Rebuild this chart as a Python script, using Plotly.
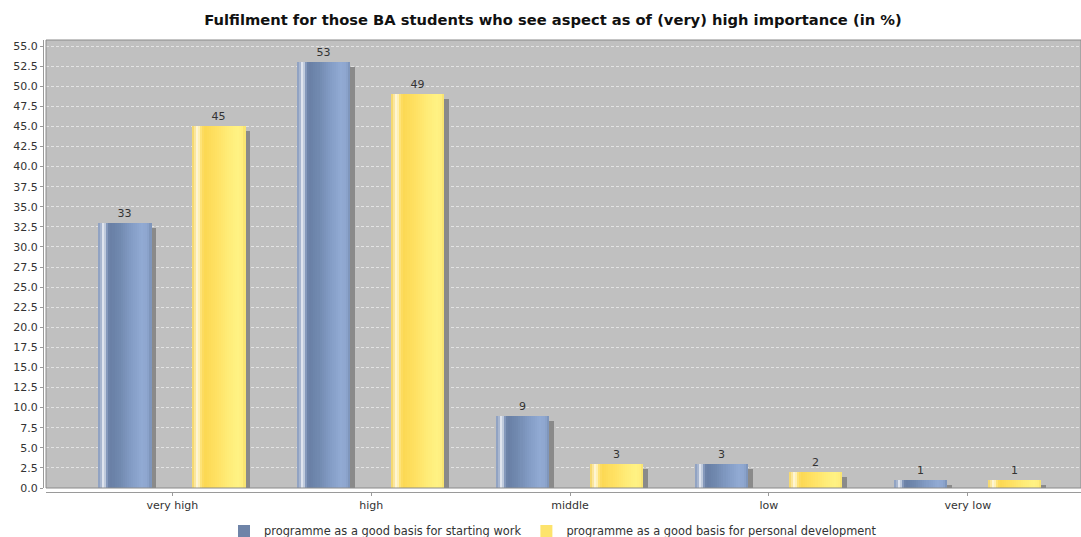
import plotly.graph_objects as go

categories = ["very high", "high", "middle", "low", "very low"]
work_values = [33, 53, 9, 3, 1]
dev_values = [45, 49, 3, 2, 1]
series_names = ["programme as a good basis for starting work",
                "programme as a good basis for personal development"]
title_text = "Fulfilment for those BA students who see aspect as of (very) high importance (in %)"

FONT = "DejaVu Sans"
BAR_W = 0.268
OFFSETS = [-0.373, 0.1]
LEGEND_COLORS = ["#6f84a8", "#fde36c"]

# colour stops (t, hex) across each bar's width to mimic the gradient look
blue_profile = [(0.0, "#8599bd"), (0.06, "#a9b7d0"), (0.11, "#f3f5f9"), (0.16, "#8c9fc1"),
                (0.22, "#687ea4"), (0.4, "#7189af"), (0.62, "#839cc5"), (0.82, "#91aad3"),
                (0.93, "#8ea6cf"), (1.0, "#7a90b5")]
yellow_profile = [(0.0, "#f2d35c"), (0.06, "#fbe7a0"), (0.11, "#fffbe6"), (0.16, "#ffe580"),
                  (0.23, "#fcd853"), (0.45, "#ffe163"), (0.68, "#ffec78"), (0.86, "#fff283"),
                  (0.95, "#ffee7e"), (1.0, "#f6df6a")]


def hex2rgb(h):
    h = h.lstrip("#")
    return tuple(int(h[i:i + 2], 16) for i in (0, 2, 4))


def color_at(profile, t):
    for (t0, c0), (t1, c1) in zip(profile[:-1], profile[1:]):
        if t0 <= t <= t1:
            f = 0 if t1 == t0 else (t - t0) / (t1 - t0)
            a, b = hex2rgb(c0), hex2rgb(c1)
            r = [round(a[k] + (b[k] - a[k]) * f) for k in range(3)]
            return "rgb(%d,%d,%d)" % tuple(r)
    return profile[-1][1]


fig = go.Figure()
N = 26
for vals, name, off, prof, lc in zip([work_values, dev_values], series_names, OFFSETS,
                                     [blue_profile, yellow_profile], LEGEND_COLORS):
    # shadow
    fig.add_trace(go.Bar(x=categories, y=vals, base=-0.62, offset=off + 0.025, width=BAR_W,
                         marker=dict(color="#8a8a8a", line=dict(width=0)),
                         showlegend=False, hoverinfo="skip"))
    # base bar (legend + value labels)
    fig.add_trace(go.Bar(x=categories, y=vals, offset=off, width=BAR_W, name=name,
                         marker=dict(color=lc, line=dict(width=0)),
                         text=[str(v) for v in vals], textposition="outside",
                         textfont=dict(family=FONT, size=11, color="#333333"),
                         cliponaxis=False))
    # gradient slices
    sw = BAR_W / N
    for i in range(N):
        t = (i + 0.5) / N
        fig.add_trace(go.Bar(x=categories, y=vals, offset=off + i * sw, width=sw * 1.05,
                             marker=dict(color=color_at(prof, t), line=dict(width=0)),
                             showlegend=False, hoverinfo="skip"))

fig.add_shape(type="rect", xref="x domain", yref="y domain", x0=0, x1=1, y0=0, y1=1,
              line=dict(color="#8a8a8a", width=1), layer="above")

fig.update_layout(
    width=1081, height=537,
    margin=dict(l=43, r=0, t=40, b=45, autoexpand=False),
    paper_bgcolor="white", plot_bgcolor="#c0c0c0",
    barmode="overlay", bargap=0,
    font=dict(family=FONT, size=11, color="#333333"),
    title=dict(text="<b>" + title_text + "</b>", x=553 / 1081, xref="container", xanchor="center",
               y=1 - 20 / 537, yref="container", yanchor="middle",
               font=dict(family=FONT, size=14.7, color="#111111")),
    xaxis=dict(domain=[3 / 1038, 1], anchor="free", position=0, automargin=False,
               range=[-0.635, 4.569], showgrid=False, showline=True, linecolor="#9a9a9a",
               ticks="outside", ticklen=3, tickcolor="#9a9a9a",
               tickfont=dict(family=FONT, size=11, color="#333333")),
    yaxis=dict(domain=[4 / 452, 1], anchor="free", position=0, automargin=False,
               range=[0, 55.75], dtick=2.5, tick0=0, tickformat=".1f",
               showgrid=True, gridcolor="rgba(235,235,235,0.8)", griddash="3px,2px", gridwidth=1,
               zeroline=False, showline=True, linecolor="#9a9a9a",
               ticks="outside", ticklen=3, tickcolor="#9a9a9a",
               tickfont=dict(family=FONT, size=11, color="#333333")),
    legend=dict(orientation="h", x=553 / 1081, xanchor="center", xref="container",
                y=(537 - 531) / 537, yref="container", yanchor="middle",
                font=dict(family=FONT, size=11.4, color="#333333"),
                itemwidth=30, tracegroupgap=0),
)

fig.write_html("out.html", config={"displayModeBar": False},
               post_script="document.body.style.margin='0';document.body.style.overflow='hidden';")
